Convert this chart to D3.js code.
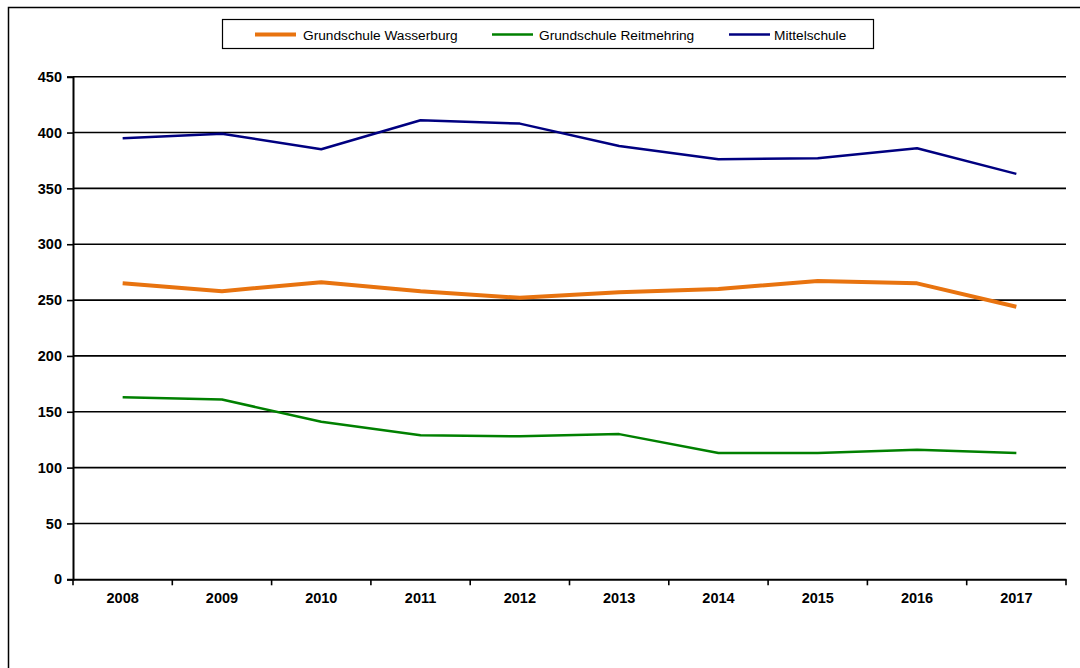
<!DOCTYPE html>
<html><head><meta charset="utf-8">
<script src="https://cdn.jsdelivr.net/npm/d3@7"></script>
<style>html,body{margin:0;padding:0;background:#fff;overflow:hidden;}svg{display:block;font-family:"Liberation Sans",Arial,sans-serif;}</style>
</head><body>
<svg id="c" width="1080" height="668"></svg>
<script>
const years = ["2008","2009","2010","2011","2012","2013","2014","2015","2016","2017"];
const wasserburg = [265,258,266,258,252,257,260,267,265,244];
const reitmehring = [163,161,141,129,128,130,113,113,116,113];
const mittelschule = [395,399,385,411,408,388,376,377,386,363];
const yTicks = [0,50,100,150,200,250,300,350,400,450];
const seriesNames = ["Grundschule Wasserburg","Grundschule Reitmehring","Mittelschule"];
const seriesColors = ["#E8730F","#008000","#000080"];
const seriesWidths = [4,2.5,2.5];

const series = [wasserburg, reitmehring, mittelschule].map((v,i)=>({name:seriesNames[i],values:v,color:seriesColors[i],w:seriesWidths[i]}));

const svg = d3.select("#c");
const L=73, R=1066, T=76.7, B=579.3;
const x = d3.scaleBand().domain(years).range([L,R]);
const y = d3.scaleLinear().domain([0,450]).range([B,T]);

// outer frame
svg.append("rect").attr("x",8.5).attr("y",7.5).attr("width",1100).attr("height",700)
  .attr("fill","none").attr("stroke","#000").attr("stroke-width",1.5);

// gridlines
svg.append("g").selectAll("line").data(yTicks.filter(d=>d>0)).join("line")
  .attr("x1",L).attr("x2",R).attr("y1",d=>y(d)).attr("y2",d=>y(d))
  .attr("stroke","#000").attr("stroke-width",1.6);

// y axis
const ya = svg.append("g").attr("transform",`translate(${L},0)`)
  .call(d3.axisLeft(y).tickValues(yTicks).tickSize(6).tickPadding(5).tickFormat(d3.format("d")));
ya.select(".domain").attr("stroke","#000").attr("stroke-width",2);
ya.selectAll(".tick line").attr("stroke","#000").attr("stroke-width",1.6);
ya.selectAll("text").attr("font-size",14.5).attr("font-weight","bold").attr("fill","#000")
  .attr("font-family","'Liberation Sans',Arial,sans-serif");

// x axis
const xa = svg.append("g").attr("transform",`translate(0,${B})`)
  .call(d3.axisBottom(x).tickSize(0).tickPadding(13));
xa.select(".domain").attr("stroke","#000").attr("stroke-width",2);
xa.selectAll("text").attr("font-size",14.5).attr("font-weight","bold").attr("fill","#000")
  .attr("font-family","'Liberation Sans',Arial,sans-serif");
// band boundary ticks
const bounds = years.map(d=>x(d)).concat([R]);
svg.append("g").selectAll("line").data(bounds).join("line")
  .attr("x1",d=>d).attr("x2",d=>d).attr("y1",B).attr("y2",B+6)
  .attr("stroke","#000").attr("stroke-width",1.6);

// lines
const line = d3.line().x((d,i)=>x(years[i])+x.bandwidth()/2).y(d=>y(d));
svg.append("g").selectAll("path").data(series).join("path")
  .attr("d",d=>line(d.values)).attr("fill","none")
  .attr("stroke",d=>d.color).attr("stroke-width",d=>d.w).attr("stroke-linejoin","round");

// legend
const lg = svg.append("g");
lg.append("rect").attr("x",222.5).attr("y",19.5).attr("width",651).attr("height",29)
  .attr("fill","#fff").attr("stroke","#000").attr("stroke-width",1.2);
const lx = [255,492,729];
const tx = [303,539,774];
series.forEach((s,i)=>{
  lg.append("line").attr("x1",lx[i]).attr("x2",lx[i]+41).attr("y1",34.5).attr("y2",34.5)
    .attr("stroke",s.color).attr("stroke-width",s.w);
  lg.append("text").attr("x",tx[i]).attr("y",39.5).attr("font-size",13.7).attr("fill","#000").text(s.name);
});
</script>
</body></html>
